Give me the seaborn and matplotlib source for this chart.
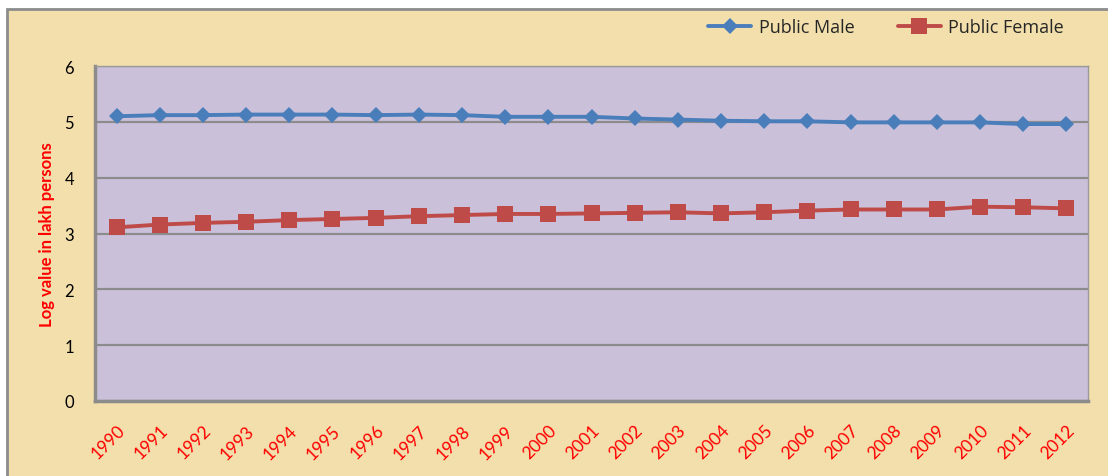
import pandas as pd
import numpy as np
import matplotlib.pyplot as plt
import seaborn as sns
from matplotlib.patches import Rectangle

# Data (log value in lakh persons)
years = list(range(1990, 2013))
public_male = [5.10, 5.12, 5.12, 5.13, 5.13, 5.13, 5.12, 5.13, 5.12, 5.09, 5.09, 5.09,
               5.06, 5.04, 5.02, 5.01, 5.01, 4.99, 4.99, 4.99, 4.99, 4.96, 4.96]
public_female = [3.11, 3.16, 3.19, 3.21, 3.24, 3.26, 3.28, 3.31, 3.33, 3.35, 3.35, 3.36,
                 3.37, 3.38, 3.36, 3.38, 3.41, 3.43, 3.43, 3.43, 3.48, 3.47, 3.45]
series_names = ['Public Male', 'Public Female']

df = pd.DataFrame({
    'Year': years * 2,
    'Value': public_male + public_female,
    'Series': [series_names[0]] * len(years) + [series_names[1]] * len(years),
})

sns.set_style('white')
plt.rcParams['font.family'] = ['Lato', 'DejaVu Sans']

fig = plt.figure(figsize=(11.08, 4.77), dpi=100)
fig.patch.set_facecolor('white')

# parchment panel with grey frame (cropped at right/bottom)
fig.patches.append(Rectangle((7 / 1108, -0.05), 1.1, 1 - 10 / 477 + 0.05,
                             transform=fig.transFigure, facecolor='#F2DFAB',
                             edgecolor='#8C8C8C', linewidth=2, zorder=-10))

ax = fig.add_axes([95 / 1108, 75 / 477, 993 / 1108, 335 / 477])
ax.set_facecolor('#CBC0DA')

sns.lineplot(data=df, x='Year', y='Value', hue='Series', style='Series',
             palette={'Public Male': '#4A7EBB', 'Public Female': '#BE4B48'},
             markers={'Public Male': 'D', 'Public Female': 's'},
             dashes=False, linewidth=2.8, markersize=9,
             markeredgewidth=0, ax=ax, legend=True)
for line in ax.lines:
    if line.get_marker() == 'D':
        line.set_markersize(8.5)
    elif line.get_marker() == 's':
        line.set_markersize(11)

ax.set_xlim(1989.5, 2012.5)
ax.set_ylim(0, 6)
ax.set_yticks(range(0, 7))
ax.set_xticks(years)
ax.set_xticklabels([str(y) for y in years], rotation=45, ha='right',
                   rotation_mode='anchor', color='red', fontsize=12.5)
ax.tick_params(axis='x', length=0, pad=15)
ax.tick_params(axis='y', length=0, pad=15, labelsize=12, labelcolor='black')
ax.yaxis.grid(True, color='#8C8C8C', linewidth=1.6)
ax.set_axisbelow(True)
ax.set_xlabel('')
ax.set_ylabel('Log value in lakh persons', color='red', fontsize=12,
              fontweight='bold')
ax.yaxis.set_label_coords(-0.040, 0.5)

for side in ['top', 'right']:
    ax.spines[side].set_color('#9A9A9A')
    ax.spines[side].set_linewidth(1)
for side in ['left', 'bottom']:
    ax.spines[side].set_color('#8C8C8C')
    ax.spines[side].set_linewidth(2.5)

handles, labels = ax.get_legend_handles_labels()
ax.get_legend().remove()
fig.legend(handles, labels, loc='center', bbox_to_anchor=(886 / 1108, 1 - 28 / 477),
           ncol=2, frameon=False, prop={'family': 'Open Sans', 'size': 13},
           handlelength=2.4, columnspacing=2.4, handletextpad=0.4)

plt.savefig('out.png', dpi=100)
